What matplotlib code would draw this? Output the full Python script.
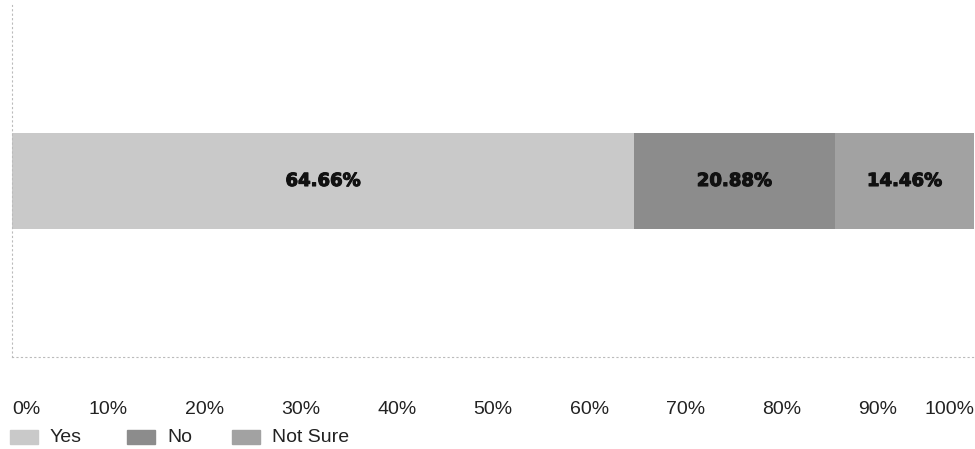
import matplotlib
matplotlib.use("Agg")
import matplotlib.pyplot as plt
import matplotlib.patheffects as pe
from matplotlib.patches import Rectangle

# Survey answers and their shares (percent)
answers = ["Yes", "No", "Not Sure"]
shares = [64.66, 20.88, 14.46]
colors = ["#c9c9c9", "#8c8c8c", "#a2a2a2"]
tick_values = [0, 10, 20, 30, 40, 50, 60, 70, 80, 90, 100]
tick_labels = [f"{v}%" for v in tick_values]

W, H = 975, 449
fig = plt.figure(figsize=(W / 100, H / 100), dpi=100)
ax = fig.add_axes([12 / W, 92 / H, 962 / W, 352 / H])

left = 0
for name, val, col in zip(answers, shares, colors):
    ax.barh(0.5, val, left=left, height=0.27, color=col, edgecolor="none")
    ax.text(left + val / 2, 0.5, f"{val:.2f}%", ha="center", va="center",
            fontsize=13, fontweight="bold", family="DejaVu Sans", color="#111111",
            path_effects=[pe.withStroke(linewidth=0.8, foreground="#111111")])
    left += val

ax.set_xlim(0, 100)
ax.set_ylim(0, 1)
ax.set_yticks([])
ax.set_xticks(tick_values)
ax.set_xticklabels(tick_labels, fontsize=14, family="Liberation Sans", color="#222222")
ax.tick_params(axis="x", length=0, pad=32)
labels = ax.get_xticklabels()
labels[0].set_ha("left")
labels[-1].set_ha("right")

for side in ["top", "right"]:
    ax.spines[side].set_visible(False)
for side in ["left", "bottom"]:
    ax.spines[side].set_linestyle((0, (1, 3)))
    ax.spines[side].set_color("#bbbbbb")
    ax.spines[side].set_linewidth(0.8)

# legend row drawn in figure pixels
legend_x = [10, 127, 232]
for x, name, col in zip(legend_x, answers, colors):
    fig.add_artist(Rectangle((x / W, (H - 444) / H), 28 / W, 14 / H,
                             transform=fig.transFigure, color=col))
    fig.text((x + 40) / W, (H - 437) / H, name, fontsize=14,
             family="Liberation Sans", color="#222222", va="center")

fig.savefig("out.png", dpi=100)
